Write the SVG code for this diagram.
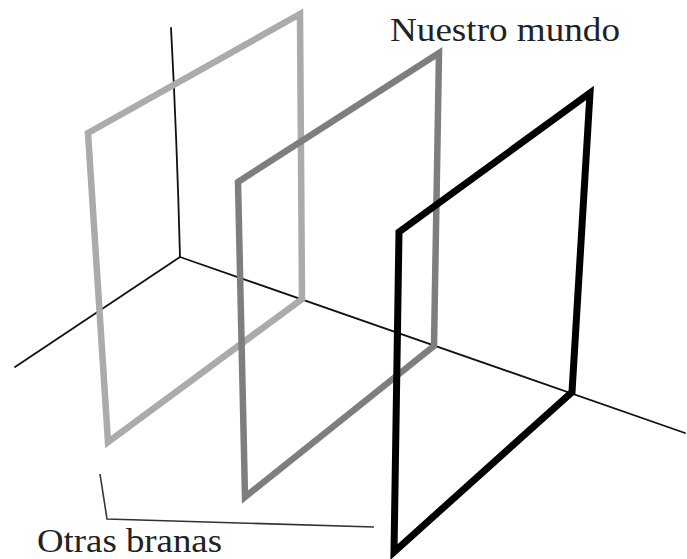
<svg xmlns="http://www.w3.org/2000/svg" width="687" height="559" viewBox="0 0 687 559">
<style>
.axis{fill:none;stroke:#111;stroke-width:1.8;stroke-linecap:round}
.frame{fill:none;stroke-width:6.5;stroke-linejoin:miter}
.light{stroke:#ababab}
.mid{stroke:#7e7e7e}
.dark{stroke:#000;stroke-width:7}
.bracket{fill:none;stroke:#333;stroke-width:1.6}
.lbl{font-family:"Liberation Serif","Times New Roman",serif;font-size:33px;fill:#222}
</style>
<rect width="687" height="559" fill="#fff"/>
<g id="connectors">
<path class="axis" d="M171,28 Q177,140 180,257"/>
<line class="axis" x1="180" y1="257" x2="15" y2="367"/>
<line class="axis" x1="180" y1="257" x2="685" y2="433"/>
<polyline class="bracket" points="100,474 107,519 374,527"/>
</g>
<g id="brane-light">
<polygon class="frame light" points="88,133 300,14 302,299 108,442"/>
</g>
<g id="brane-mid">
<polygon class="frame mid" points="238,182 439,53 434,346 245,497"/>
</g>
<g id="brane-world">
<polygon class="frame dark" points="399,232 590,93 572,392 394,552"/>
</g>
<g id="label-world">
<text class="lbl" x="390" y="41" textLength="230" lengthAdjust="spacingAndGlyphs">Nuestro mundo</text>
</g>
<g id="label-others">
<text class="lbl" x="37" y="552" textLength="185" lengthAdjust="spacingAndGlyphs">Otras branas</text>
</g>
</svg>
